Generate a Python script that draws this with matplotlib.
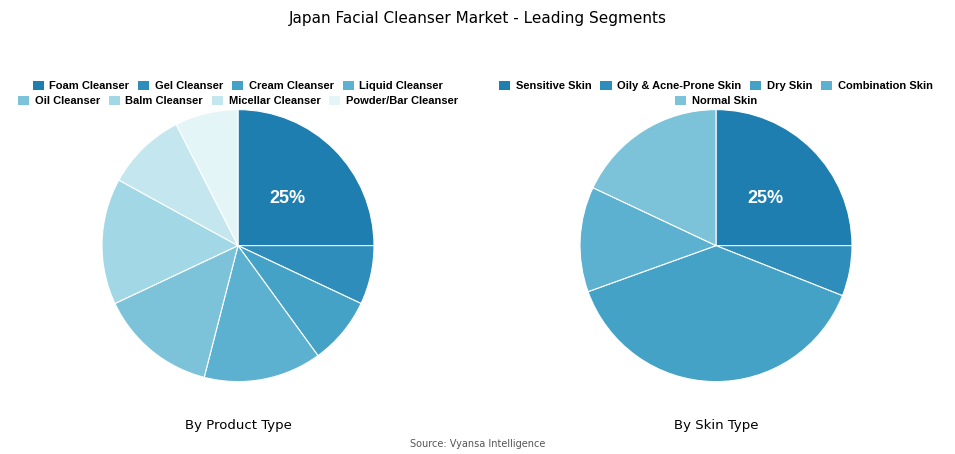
import matplotlib
matplotlib.use("Agg")
import matplotlib.pyplot as plt
from matplotlib.patches import Patch

prod_labels = ["Foam Cleanser", "Gel Cleanser", "Cream Cleanser", "Liquid Cleanser",
               "Oil Cleanser", "Balm Cleanser", "Micellar Cleanser", "Powder/Bar Cleanser"]
prod_values = [25, 7, 8, 14, 14, 15, 9.5, 7.5]
skin_labels = ["Sensitive Skin", "Oily & Acne-Prone Skin", "Dry Skin", "Combination Skin", "Normal Skin"]
skin_values = [25, 6, 38.5, 12.5, 18]

prod_colors = ["#1f7eb0", "#2e8dba", "#44a2c7", "#5db1d0", "#7cc3da", "#a2d7e6", "#c4e7ef", "#e4f5f8"]
skin_colors = ["#1f7eb0", "#2e8dba", "#44a2c7", "#5db1d0", "#7cc3da"]

fig = plt.figure(figsize=(9.55, 4.54), dpi=100)
fig.text(0.5, 0.975, "Japan Facial Cleanser Market - Leading Segments", ha="center", va="top", fontsize=11)
fig.text(0.5, 0.01, "Source: Vyansa Intelligence", ha="center", va="bottom", fontsize=7, color="#555555")

def draw(cx, vals, cols, labels, title, rows):
    ax = fig.add_axes([cx - 0.1424, 0.159, 0.2848, 0.6])
    ax.pie(vals, colors=cols, startangle=90, counterclock=False, radius=1,
           wedgeprops=dict(edgecolor="white", linewidth=0.8))
    ax.set_xlim(-1, 1); ax.set_ylim(-1, 1)
    ax.set_aspect("equal")
    ax.text(0.36, 0.35, f"{vals[0]:.0f}%", ha="center", va="center", color="white",
            fontsize=13, fontweight="bold", family="Liberation Sans")
    ax.text(0, -1.32, title, ha="center", va="center", fontsize=9.5)
    i = 0
    for r, n in enumerate(rows):
        handles = [Patch(facecolor=cols[j], edgecolor="none") for j in range(i, i + n)]
        fig.legend(handles, labels[i:i + n], loc="center", bbox_to_anchor=(cx, 1 - (86 + 15 * r) / 454),
                   ncol=n, frameon=False, prop=dict(weight="bold", size=8, family="Liberation Sans"),
                   handlelength=1.0, handleheight=0.9, columnspacing=0.8, handletextpad=0.5,
                   borderpad=0, borderaxespad=0)
        i += n

draw(238 / 955, prod_values, prod_colors, prod_labels, "By Product Type", [4, 4])
draw(716 / 955, skin_values, skin_colors, skin_labels, "By Skin Type", [4, 1])

fig.savefig("out.png", dpi=100)
